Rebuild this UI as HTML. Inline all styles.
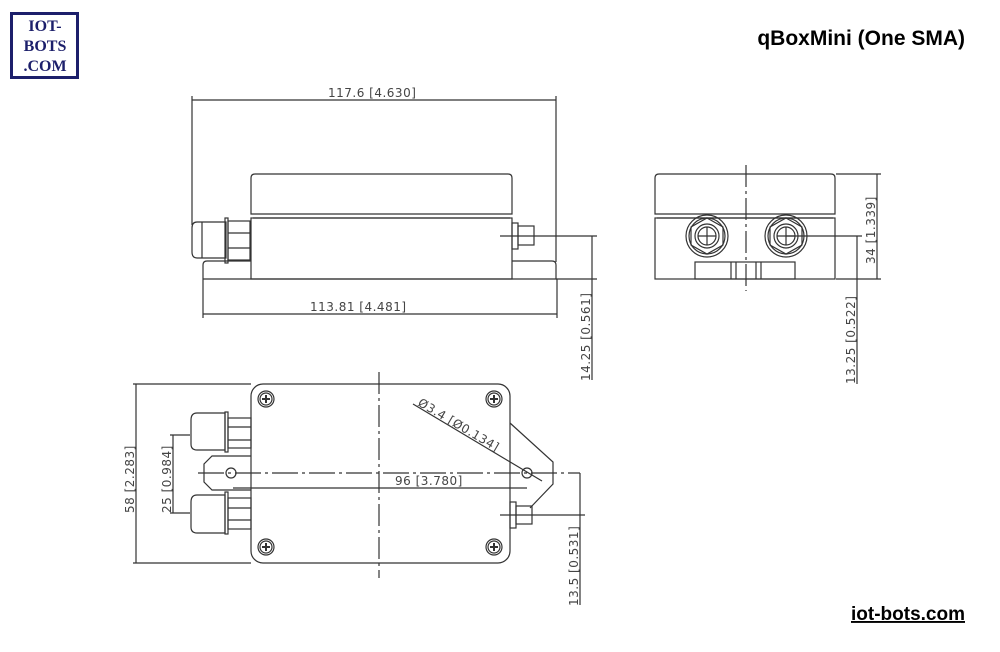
<!DOCTYPE html>
<html><head><meta charset="utf-8"><style>
body{margin:0;background:#fff;width:1000px;height:652px;overflow:hidden;font-family:"Liberation Sans",sans-serif}
svg{position:absolute;left:0;top:0}
.d{font-family:"DejaVu Sans","Liberation Sans",sans-serif;font-size:12px;fill:#444;letter-spacing:0.5px}
</style></head><body>
<svg width="1000" height="652" viewBox="0 0 1000 652" fill="none" stroke="#333" stroke-width="1.2">
<!-- logo -->
<rect x="11.5" y="13.5" width="66" height="64" stroke="#1c1f6b" stroke-width="3"/>
<g fill="#1c1f6b" stroke="none" font-family="'Liberation Serif',serif" font-weight="bold" font-size="16" text-anchor="middle">
<text x="45" y="31">IOT-</text><text x="45" y="51">BOTS</text><text x="45" y="71">.COM</text></g>
<g fill="#000" stroke="none" font-family="'Liberation Sans',sans-serif" font-weight="bold" text-anchor="end">
<text x="965" y="45" font-size="21">qBoxMini (One SMA)</text>
<text x="965" y="620" font-size="19" text-decoration="underline">iot-bots.com</text></g>

<!-- FRONT VIEW -->
<line x1="192" y1="100" x2="556" y2="100"/>
<line x1="192" y1="96" x2="192" y2="225"/>
<line x1="556" y1="96" x2="556" y2="262"/>
<text class="d" x="328" y="97" stroke="none">117.6 [4.630]</text>
<path d="M251 214 V178 Q251 174 255 174 H508 Q512 174 512 178 V214 Z"/>
<line x1="253" y1="218" x2="510" y2="218"/>
<rect x="251" y="218" width="261" height="61"/>
<path d="M203 279 V265 Q203 261 207 261 H251 M512 261 H552 Q556 261 556 265 V279 H203"/>
<!-- gland -->
<path d="M226 222 H197 Q192 222 192 228 V252 Q192 258 197 258 H226 Z"/>
<line x1="202" y1="222" x2="202" y2="258"/>
<rect x="225" y="218" width="3" height="45"/>
<rect x="228" y="221" width="22" height="39"/>
<line x1="228" y1="233" x2="250" y2="233"/><line x1="228" y1="248" x2="250" y2="248"/>
<!-- SMA -->
<rect x="512" y="223" width="6" height="26"/>
<rect x="518" y="226" width="16" height="19"/>
<line x1="500" y1="236" x2="597" y2="236"/>
<line x1="556" y1="279" x2="597" y2="279"/>
<line x1="592" y1="236" x2="592" y2="380"/>
<text class="d" transform="translate(590 381) rotate(-90)" stroke="none">14.25 [0.561]</text>
<line x1="203" y1="279" x2="203" y2="318"/><line x1="557" y1="279" x2="557" y2="318"/>
<line x1="203" y1="314" x2="557" y2="314"/>
<text class="d" x="310" y="311" stroke="none">113.81 [4.481]</text>

<!-- SIDE VIEW -->
<path d="M655 214 V178 Q655 174 659 174 H831 Q835 174 835 178 V214 Z"/>
<line x1="657" y1="218" x2="833" y2="218"/>
<rect x="655" y="218" width="180" height="61"/>
<rect x="695" y="262" width="100" height="17"/>
<line x1="731" y1="262" x2="731" y2="279"/><line x1="736" y1="262" x2="736" y2="279"/>
<line x1="756" y1="262" x2="756" y2="279"/><line x1="761" y1="262" x2="761" y2="279"/>
<line x1="746" y1="165" x2="746" y2="291" stroke-dasharray="22 4 3 4"/>
<g>
<circle cx="707" cy="236" r="21"/><circle cx="707" cy="236" r="18"/>
<polygon points="707,218 723,227 723,245 707,254 691,245 691,227"/>
<circle cx="707" cy="236" r="12"/><circle cx="707" cy="236" r="9"/>
<line x1="698" y1="236" x2="716" y2="236"/><line x1="707" y1="227" x2="707" y2="245"/>
<circle cx="786" cy="236" r="21"/><circle cx="786" cy="236" r="18"/>
<polygon points="786,218 802,227 802,245 786,254 770,245 770,227"/>
<circle cx="786" cy="236" r="12"/><circle cx="786" cy="236" r="9"/>
<line x1="777" y1="236" x2="795" y2="236"/><line x1="786" y1="227" x2="786" y2="245"/>
</g>
<line x1="786" y1="236" x2="862" y2="236"/>
<line x1="836" y1="174" x2="881" y2="174"/><line x1="836" y1="279" x2="881" y2="279"/>
<line x1="877" y1="174" x2="877" y2="279"/>
<text class="d" transform="translate(875 264) rotate(-90)" stroke="none">34 [1.339]</text>
<line x1="857" y1="236" x2="857" y2="384"/>
<text class="d" transform="translate(855 384) rotate(-90)" stroke="none">13.25 [0.522]</text>

<!-- BOTTOM VIEW -->
<rect x="251" y="384" width="259" height="179" rx="12"/>
<g>
<circle cx="266" cy="399" r="8"/><circle cx="494" cy="399" r="8"/><circle cx="266" cy="547" r="8"/><circle cx="494" cy="547" r="8"/>
<circle cx="266" cy="399" r="6"/><circle cx="494" cy="399" r="6"/><circle cx="266" cy="547" r="6"/><circle cx="494" cy="547" r="6"/>
<path d="M262 399h8M266 395v8M490 399h8M494 395v8M262 547h8M266 543v8M490 547h8M494 543v8" stroke-width="2"/>
</g>
<line x1="379" y1="372" x2="379" y2="578" stroke-dasharray="22 4 3 4"/>
<line x1="198" y1="473" x2="580" y2="473" stroke-dasharray="26 4 3 4"/>
<path d="M251 456 H212 L204 464 V482 L212 490 H251"/>
<circle cx="231" cy="473" r="5"/>
<path d="M510 423 L553 462 V484 L530 508"/>
<circle cx="527" cy="473" r="5"/>
<!-- glands -->
<path d="M225 413 H197 Q191 413 191 420 V444 Q191 450 197 450 H225 Z"/>
<rect x="225" y="412" width="3" height="40"/><rect x="228" y="418" width="23" height="30"/>
<line x1="228" y1="427" x2="251" y2="427"/><line x1="228" y1="440" x2="251" y2="440"/>
<path d="M225 495 H197 Q191 495 191 502 V527 Q191 533 197 533 H225 Z"/>
<rect x="225" y="492" width="3" height="42"/><rect x="228" y="498" width="23" height="31"/>
<line x1="228" y1="508" x2="251" y2="508"/><line x1="228" y1="520" x2="251" y2="520"/>
<!-- SMA -->
<rect x="510" y="502" width="6" height="26"/>
<rect x="516" y="506" width="16" height="18"/>
<line x1="500" y1="515" x2="585" y2="515"/>
<line x1="580" y1="473" x2="580" y2="605"/>
<text class="d" transform="translate(578 606) rotate(-90)" stroke="none">13.5 [0.531]</text>
<!-- 96 dim -->
<line x1="233" y1="488" x2="527" y2="488"/>
<text class="d" x="395" y="485" stroke="none">96 [3.780]</text>
<!-- leader -->
<line x1="413" y1="404" x2="542" y2="481"/>
<text class="d" transform="translate(417 405) rotate(30.5)" stroke="none">Ø3.4 [Ø0.134]</text>
<!-- 58 -->
<line x1="133" y1="384" x2="251" y2="384"/><line x1="133" y1="563" x2="251" y2="563"/>
<line x1="136" y1="384" x2="136" y2="563"/>
<text class="d" transform="translate(134 513) rotate(-90)" stroke="none">58 [2.283]</text>
<line x1="170" y1="435" x2="190" y2="435"/><line x1="170" y1="513" x2="190" y2="513"/>
<line x1="173" y1="435" x2="173" y2="513"/>
<text class="d" transform="translate(171 513) rotate(-90)" stroke="none">25 [0.984]</text>
</svg>
</body></html>
